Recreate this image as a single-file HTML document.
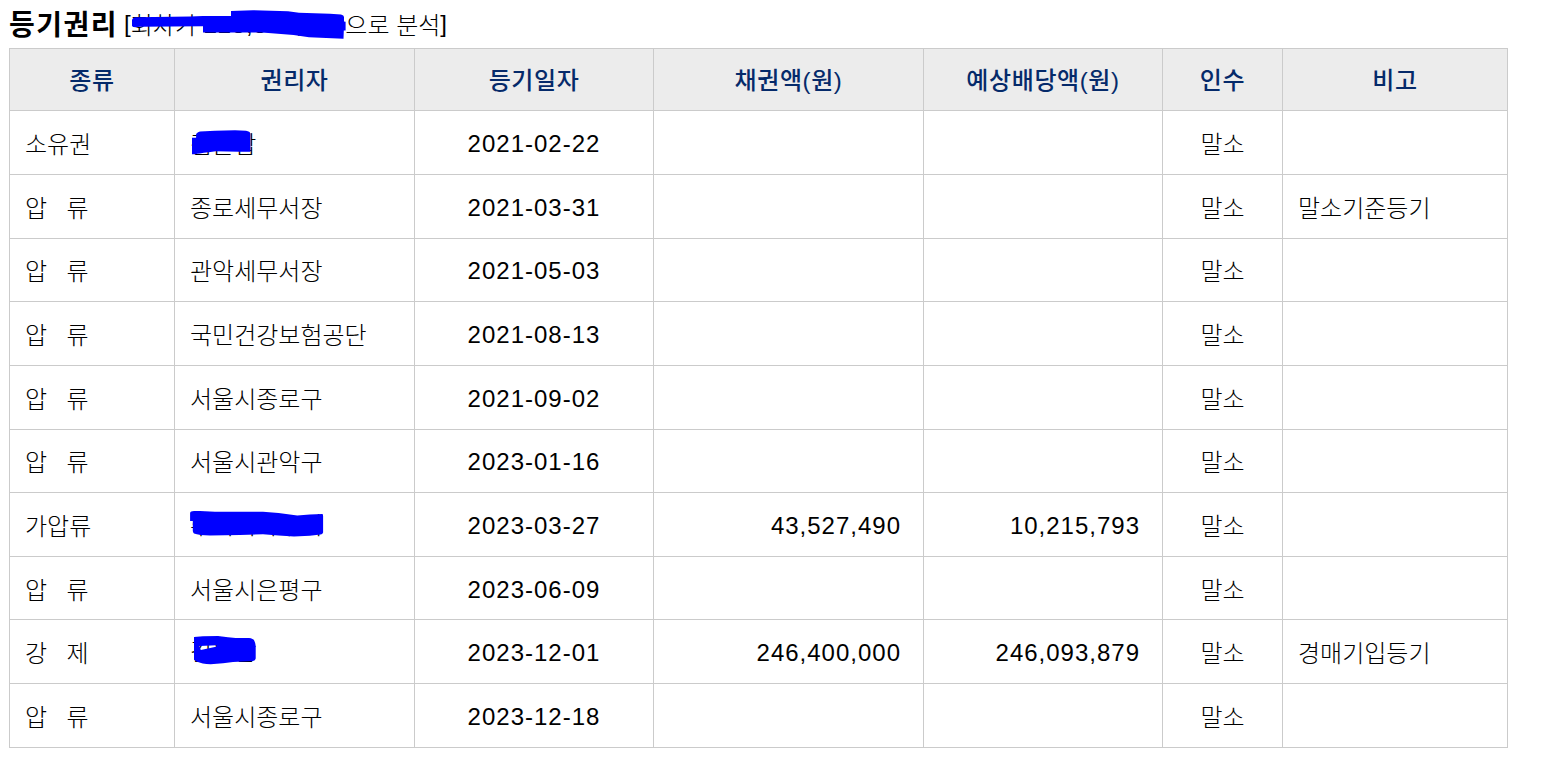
<!DOCTYPE html>
<html lang="ko">
<head>
<meta charset="utf-8">
<title>등기권리</title>
<style>
html,body{margin:0;padding:0;background:#fff;}
body{width:1541px;height:758px;overflow:hidden;position:relative;
  font-family:"Liberation Sans","Noto Sans CJK KR",sans-serif;color:#000;}
.ttl{position:absolute;left:9px;top:3px;white-space:nowrap;}
.ttl b{font-size:28px;font-weight:bold;letter-spacing:1.5px;}
.ttl .sub{font-size:24px;font-weight:300;margin-left:6px;position:relative;top:-1px;}
.br{position:relative;top:-2px;}
.hid{letter-spacing:0.75px;position:relative;top:-1px;}
table{position:absolute;left:9px;top:48px;border-collapse:separate;border-spacing:0;
  table-layout:fixed;width:1499px;border-top:1px solid #cbcbcb;border-left:1px solid #cbcbcb;}
th,td{box-sizing:border-box;border-right:1px solid #cbcbcb;border-bottom:1px solid #cbcbcb;
  padding:0 15px;font-size:24px;font-weight:300;vertical-align:middle;white-space:nowrap;overflow:hidden;}
th{background:#ececec;color:#052a6a;font-weight:500;text-align:center;height:62px;padding-bottom:2px;letter-spacing:0.6px;}
td{height:64px;}
tr.s td{height:63px;}
tr.u td{padding-bottom:2px;}
tr.u td.n{padding-top:4px;}
tr.v td.n{padding-top:4px;}
td.c{text-align:center;}
td.r{text-align:right;padding-right:22px;}
td.n{letter-spacing:1px;padding-top:2px;}
.sp{word-spacing:3px;}
.hn{position:relative;top:-2px;}
svg.ov{position:absolute;left:0;top:0;width:1541px;height:758px;pointer-events:none;}
</style>
</head>
<body>
<div class="ttl"><b>등기권리</b><span class="sub"><span class="br">[</span>회차가 <span class="hid">228,800,000</span>으로 분석<span class="br">]</span></span></div>
<table>
<colgroup><col style="width:165px"><col style="width:240px"><col style="width:239px"><col style="width:270px"><col style="width:239px"><col style="width:120px"><col style="width:225px"></colgroup>
<tr><th>종류</th><th>권리자</th><th>등기일자</th><th>채권액(원)</th><th>예상배당액(원)</th><th>인수</th><th>비고</th></tr>
<tr><td>소유권</td><td>김은합</td><td class="c n">2021-02-22</td><td class="r"></td><td class="r"></td><td class="c">말소</td><td></td></tr>
<tr><td class="sp">압&nbsp;&nbsp;류</td><td>종로세무서장</td><td class="c n">2021-03-31</td><td class="r"></td><td class="r"></td><td class="c">말소</td><td>말소기준등기</td></tr>
<tr class="s u"><td class="sp">압&nbsp;&nbsp;류</td><td>관악세무서장</td><td class="c n">2021-05-03</td><td class="r"></td><td class="r"></td><td class="c">말소</td><td></td></tr>
<tr><td class="sp">압&nbsp;&nbsp;류</td><td>국민건강보험공단</td><td class="c n">2021-08-13</td><td class="r"></td><td class="r"></td><td class="c">말소</td><td></td></tr>
<tr><td class="sp">압&nbsp;&nbsp;류</td><td>서울시종로구</td><td class="c n">2021-09-02</td><td class="r"></td><td class="r"></td><td class="c">말소</td><td></td></tr>
<tr class="s u"><td class="sp">압&nbsp;&nbsp;류</td><td>서울시관악구</td><td class="c n">2023-01-16</td><td class="r"></td><td class="r"></td><td class="c">말소</td><td></td></tr>
<tr><td>가압류</td><td><span class="hn" style="top:-1px">주식회사우리</span></td><td class="c n">2023-03-27</td><td class="r n">43,527,490</td><td class="r n">10,215,793</td><td class="c">말소</td><td></td></tr>
<tr class="s v"><td class="sp">압&nbsp;&nbsp;류</td><td>서울시은평구</td><td class="c n">2023-06-09</td><td class="r"></td><td class="r"></td><td class="c">말소</td><td></td></tr>
<tr><td class="sp">강&nbsp;&nbsp;제</td><td><span class="hn">김은합</span></td><td class="c n">2023-12-01</td><td class="r n">246,400,000</td><td class="r n">246,093,879</td><td class="c">말소</td><td>경매기입등기</td></tr>
<tr><td class="sp">압&nbsp;&nbsp;류</td><td>서울시종로구</td><td class="c n">2023-12-18</td><td class="r"></td><td class="r"></td><td class="c">말소</td><td></td></tr>
</table>
<svg class="ov" viewBox="0 0 1541 758">
<g fill="#0000ff">
<path d="M132 20 Q132.5 17.6 136 17.3 L190 16.6 L203 16 L231 16 L231 11 L253 10.2 L288 11.3 L299 12.8 L330 13.8 L341 14.4 Q344 15 344 17 L344 21.6 L345.6 21.8 L345.6 30.4 L343.8 30.6 L343.5 38.7 L309 37.2 L293.6 35.1 L262 32.6 L203 32.6 L203 26.3 L140 26.8 Q133 28 132 26 Z"/>
<path d="M192 137.8 L196.1 137.8 L196.1 133.9 Q198 132 200 131.5 L215 130.7 L235 130.2 L246 130.8 Q250 131.5 250.4 133.5 L250.5 151.8 L238.8 151.7 L215.8 151.2 L208.6 152.2 Q198 153.5 195 154.2 L192 154.3 Z"/>
<path d="M190.1 513 Q190.5 511.2 194 511.1 L200 511 L215 511.7 L263 511.8 L278.6 513 L297.3 515.4 L309.8 514.5 L322.3 514 Q323.1 514 323.1 516 L323.1 532.5 Q322.5 534.4 320.5 534.6 L309.8 535.8 L294 536.5 L278.6 535.5 L263 534.3 L240 535 L210 535.5 Q199 535.2 194 533.4 Q192.8 532.5 192.8 531 L192.8 520.9 L190.1 520.9 Z"/>
<path fill-rule="evenodd" d="M194 637 L203 636.3 L218 636 L228 637.3 L235.6 638 L249 638 Q253.2 638.5 254.2 640.5 Q255.5 643 255.7 646 L255.7 658.5 Q255.3 660.6 253 661 L248 661.3 L233 662 L223 663.3 L210.6 664.3 Q202 664 196.5 661.5 L194 659.8 Z M199.3 646 L217 645.2 L216 646.8 L200.8 649.9 Z"/>
</g>
</svg>
</body>
</html>
